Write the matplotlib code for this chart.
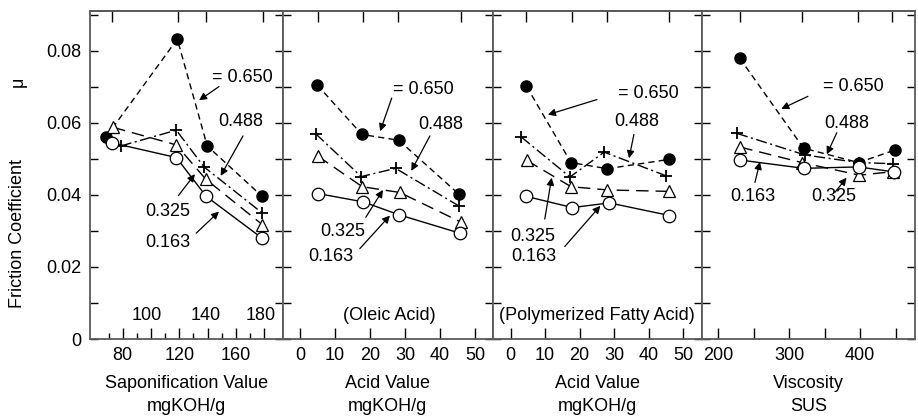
import matplotlib
matplotlib.use("Agg")
import matplotlib.pyplot as plt
from matplotlib.ticker import FixedLocator, MultipleLocator

plt.rcParams['font.family'] = ['Liberation Sans', 'DejaVu Sans']
plt.rcParams['lines.scale_dashes'] = False

# ---------------- data ----------------
# Panel 1: Saponification value
p1_x_650 = [68.3, 118.6, 139.8, 178.7]
p1_y_650 = [0.0562, 0.0833, 0.0536, 0.0396]
p1_x_488 = [78.5, 117.9, 137.5, 178.7]
p1_y_488 = [0.0536, 0.0580, 0.0478, 0.0350]
p1_x_325 = [73.1, 117.9, 138.7, 178.7]
p1_y_325 = [0.0588, 0.0539, 0.0444, 0.0318]
p1_x_163 = [72.1, 117.9, 139.1, 178.3]
p1_y_163 = [0.0545, 0.0504, 0.0396, 0.0281]
p1_samples = [72.4, 118.9, 138.9, 179.4]
p1_inner_labels = ["100", "140", "180"]
p1_inner_x = [97.1, 138.9, 177.8]

# Panel 2: Acid value (Oleic acid)
p2_x_650 = [4.9, 17.7, 28.2, 45.4]
p2_y_650 = [0.0706, 0.0568, 0.0552, 0.0402]
p2_x_488 = [4.5, 17.5, 27.3, 45.3]
p2_y_488 = [0.0570, 0.0451, 0.0474, 0.0370]
p2_x_325 = [5.1, 17.8, 28.5, 46.1]
p2_y_325 = [0.0508, 0.0423, 0.0407, 0.0324]
p2_x_163 = [5.1, 18.0, 28.3, 45.6]
p2_y_163 = [0.0404, 0.0381, 0.0345, 0.0294]
p2_samples = [5.1, 18.1, 28.0, 45.9]

# Panel 3: Acid value (Polymerized fatty acid)
p3_x_650 = [4.6, 17.5, 28.0, 46.0]
p3_y_650 = [0.0702, 0.0490, 0.0473, 0.0499]
p3_x_488 = [3.1, 17.2, 27.1, 45.1]
p3_y_488 = [0.0561, 0.0450, 0.0519, 0.0453]
p3_x_325 = [4.7, 17.5, 28.0, 45.8]
p3_y_325 = [0.0496, 0.0423, 0.0414, 0.0410]
p3_x_163 = [4.6, 17.9, 28.6, 46.0]
p3_y_163 = [0.0396, 0.0365, 0.0378, 0.0343]
p3_samples = [4.6, 17.7, 27.8, 45.9]

# Panel 4: Viscosity
p4_x_650 = [230.2, 320.3, 397.8, 449.3]
p4_y_650 = [0.0780, 0.0530, 0.0490, 0.0525]
p4_x_488 = [226.4, 322.6, 397.8, 446.0]
p4_y_488 = [0.0571, 0.0511, 0.0490, 0.0487]
p4_x_325 = [231.0, 318.0, 399.0, 447.0]
p4_y_325 = [0.0533, 0.0490, 0.0455, 0.0465]
p4_x_163 = [231.0, 320.8, 397.8, 447.9]
p4_y_163 = [0.0497, 0.0474, 0.0478, 0.0464]
p4_samples = [230.8, 318.1, 397.2, 445.5]

series_labels = ["= 0.650", "0.488", "0.325", "0.163"]

# ---------------- styles ----------------
styles = {
    "650": dict(ls=(0, (4.5, 3)), marker='o', mfc='black', mec='black', ms=8, mew=1.0),
    "488": dict(ls=(0, (8, 2.5, 1.5, 2.5)), marker='+', mfc='black', mec='black', ms=9, mew=1.3),
    "325": dict(ls=(0, (9, 5)), marker='^', mfc='white', mec='black', ms=8, mew=0.9),
    "163": dict(ls='-', marker='o', mfc='white', mec='black', ms=9, mew=0.9),
}

panels = [
    dict(data={"650": (p1_x_650, p1_y_650), "488": (p1_x_488, p1_y_488),
               "325": (p1_x_325, p1_y_325), "163": (p1_x_163, p1_y_163)},
         samples=p1_samples, xlim=(56.5, 193.5),
         major=[80, 100, 120, 140, 160, 180], labels=["80", "", "120", "", "160", ""],
         minor=[70, 90, 110, 130, 150, 170],
         xlabel="Saponification Value\nmgKOH/g",
         ann=[("= 0.650", (143.3, 0.0726), (148.1, 0.0701), (134.0, 0.0663)),
              ("0.488", (147.6, 0.0605), (165.1, 0.0564), (149.3, 0.0453)),
              ("0.325", (95.7, 0.0354), (119.3, 0.0398), (131.1, 0.0458)),
              ("0.163", (95.7, 0.0269), (132.0, 0.0294), (148.1, 0.0354))]),
    dict(data={"650": (p2_x_650, p2_y_650), "488": (p2_x_488, p2_y_488),
               "325": (p2_x_325, p2_y_325), "163": (p2_x_163, p2_y_163)},
         samples=p2_samples, xlim=(-4.8, 55.0),
         major=[0, 10, 20, 30, 40, 50], labels=["0", "10", "20", "30", "40", "50"],
         minor=[], xlabel="Acid Value\nmgKOH/g", note="(Oleic Acid)", note_x=25.4,
         ann=[("= 0.650", (26.6, 0.0693), (26.2, 0.0669), (22.9, 0.0577)),
              ("0.488", (33.7, 0.0596), (37.1, 0.0564), (31.8, 0.0467)),
              ("0.325", (5.7, 0.0299), (18.8, 0.0338), (23.7, 0.0414)),
              ("0.163", (2.3, 0.0229), (17.1, 0.0251), (25.7, 0.0343))]),
    dict(data={"650": (p3_x_650, p3_y_650), "488": (p3_x_488, p3_y_488),
               "325": (p3_x_325, p3_y_325), "163": (p3_x_163, p3_y_163)},
         samples=p3_samples, xlim=(-5.2, 55.3),
         major=[0, 10, 20, 30, 40, 50], labels=["0", "10", "20", "30", "40", "50"],
         minor=[], xlabel="Acid Value\nmgKOH/g", note="(Polymerized Fatty Acid)", note_x=25.1,
         ann=[("= 0.650", (31.1, 0.0683), (25.0, 0.0665), (10.8, 0.0623)),
              ("0.488", (29.9, 0.0603), (35.7, 0.0568), (34.3, 0.0502)),
              ("0.325", (-0.2, 0.0285), (9.9, 0.0333), (11.9, 0.0448)),
              ("0.163", (0.3, 0.0229), (15.7, 0.0257), (26.0, 0.0370))]),
    dict(data={"650": (p4_x_650, p4_y_650), "488": (p4_x_488, p4_y_488),
               "325": (p4_x_325, p4_y_325), "163": (p4_x_163, p4_y_163)},
         samples=p4_samples, xlim=(176.5, 478.0),
         major=[200, 250, 300, 350, 400, 450], labels=["200", "", "300", "", "400", ""],
         minor=[], xlabel="Viscosity\nSUS",
         ann=[("= 0.650", (347.1, 0.0702), (326.4, 0.0674), (288.8, 0.0639)),
              ("0.488", (349.9, 0.0598), (367.2, 0.0573), (353.1, 0.0513)),
              ("0.163", (216.5, 0.0395), (251.7, 0.0435), (258.8, 0.0492)),
              ("0.325", (331.6, 0.0395), (364.4, 0.0407), (380.9, 0.0448))]),
]

W, H = 918, 416
fig = plt.figure(figsize=(W / 100, H / 100), dpi=100)
gs = fig.add_gridspec(1, 4, left=89.6 / W, right=915.4 / W, bottom=1 - 339 / H, top=1 - 11 / H,
                      wspace=0, width_ratios=[193.5, 209.5, 209.0, 213.8])

FS = 13
spine_c = '#5a5a5a'
for i, p in enumerate(panels):
    ax = fig.add_subplot(gs[0, i])
    for key in ["650", "488", "325", "163"]:
        xs, ys = p["data"][key]
        st = styles[key]
        ax.plot(xs, ys, color='black', lw=1.0, linestyle=st["ls"], marker=st["marker"],
                markerfacecolor=st["mfc"], markeredgecolor=st["mec"], markersize=st["ms"],
                markeredgewidth=st["mew"], zorder=3)
    ax.set_xlim(*p["xlim"])
    ax.set_ylim(0, 0.0911)
    ax.xaxis.set_major_locator(FixedLocator(p["major"]))
    ax.set_xticklabels(p["labels"])
    if p["minor"]:
        ax.xaxis.set_minor_locator(FixedLocator(p["minor"]))
    ax.tick_params(axis='x', which='major', direction='in', length=8, width=1.0,
                   labelsize=FS, pad=6, top=False)
    ax.tick_params(axis='x', which='minor', direction='in', length=4, width=1.0, top=False)
    ax.set_yticks([0, 0.02, 0.04, 0.06, 0.08])
    ax.yaxis.set_minor_locator(MultipleLocator(0.01))
    ax.tick_params(axis='y', which='both', direction='in', length=6, width=1.0,
                   left=True, right=True, labelsize=FS, pad=6)
    if i == 0:
        ax.set_yticklabels(["0", "0.02", "0.04", "0.06", "0.08"])
    else:
        ax.tick_params(axis='y', labelleft=False)
    for s in ax.spines.values():
        s.set_color(spine_c)
        s.set_linewidth(1.3)
    # top sample ticks
    sec = ax.secondary_xaxis('top')
    sec.set_xticks(p["samples"])
    sec.tick_params(direction='in', length=8, width=1.0, labeltop=False)
    sec.spines['top'].set_color(spine_c)
    sec.spines['top'].set_linewidth(1.3)

    ax.set_xlabel(p["xlabel"], fontsize=FS, linespacing=1.45, labelpad=8)

    for txt, tpos, a0, a1 in p["ann"]:
        ax.text(tpos[0], tpos[1], txt, fontsize=FS, ha='left', va='center', zorder=5)
        ax.annotate("", xy=a1, xytext=a0,
                    arrowprops=dict(arrowstyle='-|>', color='black', lw=0.9,
                                    mutation_scale=11, shrinkA=0, shrinkB=0), zorder=5)
    if "note" in p:
        ax.text(p["note_x"], 0.0066, p["note"], fontsize=FS, ha='center', va='center')
    if i == 0:
        for lab, xv in zip(p1_inner_labels, p1_inner_x):
            ax.text(xv, 0.0066, lab, fontsize=FS, ha='center', va='center')

fig.text(18 / W, 1 - 234 / H, "Friction Coefficient", rotation=90, fontsize=FS,
         ha='center', va='center')
fig.text(18 / W, 1 - 82 / H, "μ", rotation=90, fontsize=FS, ha='center', va='center')

fig.savefig("out.png", dpi=100)
